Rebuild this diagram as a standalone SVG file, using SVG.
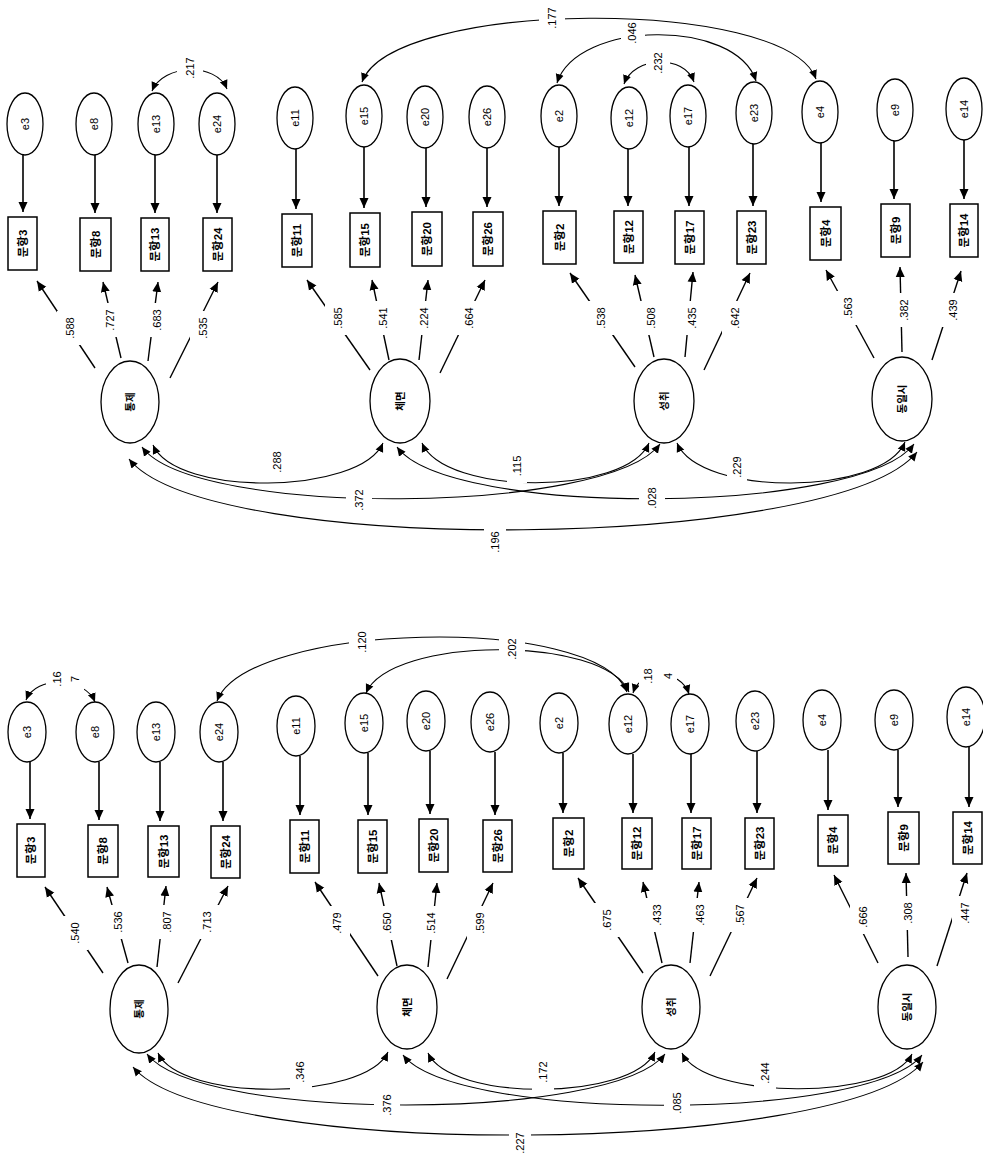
<svg xmlns="http://www.w3.org/2000/svg" width="983" height="1157" viewBox="0 0 983 1157">
<style>
text{font-family:"Liberation Sans","Noto Sans CJK KR",sans-serif;text-anchor:middle;dominant-baseline:central;fill:#000}
.n{font-size:11px}
.e{font-size:11px}
.b{font-size:11.5px;font-weight:bold}
.f{font-size:10.5px;font-weight:bold}
.el{fill:#fff;stroke:#000;stroke-width:1.3}
.bx{fill:#fff;stroke:#000;stroke-width:1.5}
.ea{fill:none;stroke:#000;stroke-width:1.6;marker-end:url(#a)}
.ld{fill:none;stroke:#000;stroke-width:1.4;marker-end:url(#a)}
.cv{fill:none;stroke:#000;stroke-width:1.1;marker-start:url(#s);marker-end:url(#s)}
</style>
<defs>
<marker id="a" viewBox="0 0 10 10" refX="10" refY="5" markerWidth="10" markerHeight="10" markerUnits="userSpaceOnUse" orient="auto"><path d="M0,0.5 L10,5 L0,9.5 z" fill="#000"/></marker>
<marker id="s" viewBox="0 0 10 10" refX="10" refY="5" markerWidth="9" markerHeight="9" markerUnits="userSpaceOnUse" orient="auto-start-reverse"><path d="M0,0.5 L10,5 L0,9.5 z" fill="#000"/></marker>
<mask id="gap" maskUnits="userSpaceOnUse" x="0" y="0" width="983" height="1157">
<rect width="983" height="1157" fill="#fff"/>
<g fill="#000">
<rect x="57" y="311" width="26" height="34"/><rect x="97" y="303" width="26" height="34"/><rect x="144" y="303" width="26" height="34"/><rect x="190" y="311" width="26" height="34"/>
<rect x="325" y="301" width="26" height="34"/><rect x="370" y="301" width="26" height="34"/><rect x="411" y="301" width="26" height="34"/><rect x="456" y="301" width="26" height="34"/>
<rect x="588" y="301" width="26" height="34"/><rect x="638" y="301" width="26" height="34"/><rect x="679" y="301" width="26" height="34"/><rect x="722" y="301" width="26" height="34"/>
<rect x="835" y="291" width="26" height="34"/><rect x="891" y="293" width="26" height="34"/><rect x="940" y="293" width="26" height="34"/>
<rect x="62" y="916" width="26" height="34"/><rect x="105" y="905" width="26" height="34"/><rect x="154" y="905" width="26" height="34"/><rect x="194" y="905" width="26" height="34"/>
<rect x="324" y="906" width="26" height="34"/><rect x="374" y="906" width="26" height="34"/><rect x="418" y="906" width="26" height="34"/><rect x="467" y="906" width="26" height="34"/>
<rect x="594" y="903" width="26" height="34"/><rect x="644" y="898" width="26" height="34"/><rect x="687" y="898" width="26" height="34"/><rect x="727" y="898" width="26" height="34"/>
<rect x="850" y="900" width="26" height="34"/><rect x="895" y="896" width="26" height="34"/><rect x="952" y="896" width="26" height="34"/>
<rect x="346" y="483" width="26" height="34"/><rect x="484" y="526" width="22" height="34"/><rect x="507" y="452" width="20" height="31"/><rect x="639" y="481" width="26" height="34"/><rect x="727" y="452" width="20" height="36"/>
<rect x="177" y="51" width="26" height="34"/><rect x="539" y="1" width="26" height="34"/><rect x="621" y="22" width="24" height="26"/><rect x="646" y="48" width="24" height="30"/>
<rect x="46" y="665" width="38" height="28"/><rect x="349" y="625" width="26" height="34"/><rect x="499" y="632" width="26" height="34"/><rect x="639" y="665" width="38" height="22"/>
<rect x="290" y="1056" width="22" height="36"/><rect x="374" y="1088" width="26" height="34"/><rect x="509" y="1126" width="22" height="34"/><rect x="532" y="1056" width="22" height="36"/><rect x="664" y="1086" width="26" height="34"/><rect x="754" y="1056" width="22" height="36"/>
</g>
</mask>
</defs>
<rect width="983" height="1157" fill="#fff"/>

<g id="connectors" mask="url(#gap)">
<!-- top: error to item -->
<path class="ea" d="M23,155 L23,212"/><path class="ea" d="M95,155 L95,213"/><path class="ea" d="M155,155 L155,213"/><path class="ea" d="M217,155 L217,213"/>
<path class="ea" d="M296,149 L296,209"/><path class="ea" d="M364,147 L364,208"/><path class="ea" d="M426,148 L426,207"/><path class="ea" d="M487,148 L487,207"/>
<path class="ea" d="M559,147 L559,206"/><path class="ea" d="M628,149 L628,206"/><path class="ea" d="M689,147 L689,206"/><path class="ea" d="M753,144 L753,206"/>
<path class="ea" d="M821,143 L821,202"/><path class="ea" d="M894,141 L894,199"/><path class="ea" d="M964,140 L964,199"/>
<!-- top: loadings -->
<path class="ld" d="M95,368 L37,281"/><path class="ld" d="M121,358 L103,282"/><path class="ld" d="M148,361 L158,282"/><path class="ld" d="M170,378 L218,282"/>
<path class="ld" d="M370,370 L307,280"/><path class="ld" d="M389,360 L372,280"/><path class="ld" d="M419,360 L428,280"/><path class="ld" d="M440,373 L485,280"/>
<path class="ld" d="M635,367 L570,273"/><path class="ld" d="M654,357 L635,275"/><path class="ld" d="M685,357 L693,272"/><path class="ld" d="M704,370 L750,273"/>
<path class="ld" d="M874,358 L826,270"/><path class="ld" d="M902,352 L900,267"/><path class="ld" d="M932,360 L961,271"/>
<!-- top: factor covariances -->
<path class="cv" d="M153,445 C176,497 360,495 383,443"/>
<path class="cv" d="M142,447 C194,518 608,515 660,444"/>
<path class="cv" d="M129,459 C208,558 838,551 917,452"/>
<path class="cv" d="M422,443 C445,496 626,496 649,443"/>
<path class="cv" d="M397,447 C449,518 862,515 914,444"/>
<path class="cv" d="M677,443 C700,497 882,496 905,442"/>
<!-- top: error covariances -->
<path class="cv" d="M152,91 C163,64 216,62 227,89"/>
<path class="cv" d="M362,82 C392,-1 786,-4 816,79"/>
<path class="cv" d="M557,83 C577,20 736,18 756,81"/>
<path class="cv" d="M624,84 C634,56 684,54 694,82"/>
<!-- bottom: error to item -->
<path class="ea" d="M30,762 L30,819"/><path class="ea" d="M99,762 L99,820"/><path class="ea" d="M160,762 L160,821"/><path class="ea" d="M223,762 L223,821"/>
<path class="ea" d="M300,756 L300,815"/><path class="ea" d="M368,753 L368,815"/><path class="ea" d="M430,751 L430,814"/><path class="ea" d="M495,752 L495,815"/>
<path class="ea" d="M563,753 L563,813"/><path class="ea" d="M633,754 L633,813"/><path class="ea" d="M691,754 L691,813"/><path class="ea" d="M757,751 L757,813"/>
<path class="ea" d="M828,750 L828,810"/><path class="ea" d="M898,750 L898,807"/><path class="ea" d="M969,747 L969,807"/>
<!-- bottom: loadings -->
<path class="ld" d="M103,973 L45,887"/><path class="ld" d="M128,963 L107,887"/><path class="ld" d="M157,967 L166,886"/><path class="ld" d="M178,983 L228,886"/>
<path class="ld" d="M378,976 L315,882"/><path class="ld" d="M397,966 L379,883"/><path class="ld" d="M428,967 L437,883"/><path class="ld" d="M447,979 L493,883"/>
<path class="ld" d="M643,973 L578,878"/><path class="ld" d="M662,963 L643,882"/><path class="ld" d="M690,963 L699,882"/><path class="ld" d="M710,976 L757,878"/>
<path class="ld" d="M878,963 L834,875"/><path class="ld" d="M908,957 L906,873"/><path class="ld" d="M937,966 L967,873"/>
<!-- bottom: factor covariances -->
<path class="cv" d="M158,1053 C181,1102 365,1101 388,1052"/>
<path class="cv" d="M147,1054 C199,1122 613,1122 665,1054"/>
<path class="cv" d="M133,1067 C212,1161 844,1156 923,1062"/>
<path class="cv" d="M428,1053 C451,1102 632,1101 655,1052"/>
<path class="cv" d="M403,1055 C455,1122 870,1122 922,1055"/>
<path class="cv" d="M682,1053 C705,1100 889,1101 912,1054"/>
<!-- bottom: error covariances -->
<path class="cv" d="M26,700 C36,675 85,677 95,702"/>
<path class="cv" d="M217,701 C247,622 597,613 627,692"/>
<path class="cv" d="M366,693 C391,636 604,635 629,692"/>
<path class="cv" d="M633,693 C641,668 681,669 689,694"/>
</g>

<g id="connector-labels" class="n">
<text class="n" transform="translate(70 328) rotate(-90)">.588</text>
<text class="n" transform="translate(110 320) rotate(-90)">.727</text>
<text class="n" transform="translate(157 320) rotate(-90)">.683</text>
<text class="n" transform="translate(203 328) rotate(-90)">.535</text>
<text class="n" transform="translate(338 318) rotate(-90)">.585</text>
<text class="n" transform="translate(383 318) rotate(-90)">.541</text>
<text class="n" transform="translate(424 318) rotate(-90)">.224</text>
<text class="n" transform="translate(469 318) rotate(-90)">.664</text>
<text class="n" transform="translate(601 318) rotate(-90)">.538</text>
<text class="n" transform="translate(651 318) rotate(-90)">.508</text>
<text class="n" transform="translate(692 318) rotate(-90)">.435</text>
<text class="n" transform="translate(735 318) rotate(-90)">.642</text>
<text class="n" transform="translate(848 308) rotate(-90)">.563</text>
<text class="n" transform="translate(904 310) rotate(-90)">.382</text>
<text class="n" transform="translate(953 310) rotate(-90)">.439</text>
<text class="n" transform="translate(277 462) rotate(-90)">.288</text>
<text class="n" transform="translate(359 500) rotate(-90)">.372</text>
<text class="n" transform="translate(495 542) rotate(-90)">.196</text>
<text class="n" transform="translate(517 466) rotate(-90)">.115</text>
<text class="n" transform="translate(652 498) rotate(-90)">.028</text>
<text class="n" transform="translate(737 467) rotate(-90)">.229</text>
<text class="n" transform="translate(190 68) rotate(-90)">.217</text>
<text class="n" transform="translate(552 18) rotate(-90)">.177</text>
<text class="n" transform="translate(632 33) rotate(-90)">.046</text>
<text class="n" transform="translate(658 63) rotate(-90)">.232</text>
<text class="n" transform="translate(75 933) rotate(-90)">.540</text>
<text class="n" transform="translate(118 922) rotate(-90)">.536</text>
<text class="n" transform="translate(167 922) rotate(-90)">.807</text>
<text class="n" transform="translate(207 922) rotate(-90)">.713</text>
<text class="n" transform="translate(337 923) rotate(-90)">.479</text>
<text class="n" transform="translate(387 923) rotate(-90)">.650</text>
<text class="n" transform="translate(431 923) rotate(-90)">.514</text>
<text class="n" transform="translate(480 923) rotate(-90)">.599</text>
<text class="n" transform="translate(607 920) rotate(-90)">.675</text>
<text class="n" transform="translate(657 915) rotate(-90)">.433</text>
<text class="n" transform="translate(700 915) rotate(-90)">.463</text>
<text class="n" transform="translate(740 915) rotate(-90)">.567</text>
<text class="n" transform="translate(863 917) rotate(-90)">.666</text>
<text class="n" transform="translate(908 913) rotate(-90)">.308</text>
<text class="n" transform="translate(965 913) rotate(-90)">.447</text>
<text class="n" transform="translate(300 1072) rotate(-90)">.346</text>
<text class="n" transform="translate(387 1105) rotate(-90)">.376</text>
<text class="n" transform="translate(520 1143) rotate(-90)">.227</text>
<text class="n" transform="translate(543 1072) rotate(-90)">.172</text>
<text class="n" transform="translate(677 1103) rotate(-90)">.085</text>
<text class="n" transform="translate(765 1073) rotate(-90)">.244</text>
<text class="n" transform="translate(57 679) rotate(-90)">.16</text>
<text class="n" transform="translate(75 679) rotate(-90)">7</text>
<text class="n" transform="translate(362 642) rotate(-90)">.120</text>
<text class="n" transform="translate(512 649) rotate(-90)">.202</text>
<text class="n" transform="translate(648 676) rotate(-90)">.18</text>
<text class="n" transform="translate(668 676) rotate(-90)">4</text>
</g>

<!-- TOP MODEL: errors -->
<g id="t_e3"><ellipse class="el" cx="25" cy="124" rx="18" ry="31"/><text class="e" transform="translate(25 124) rotate(-90)">e3</text></g>
<g id="t_e8"><ellipse class="el" cx="94" cy="124" rx="18" ry="31"/><text class="e" transform="translate(94 124) rotate(-90)">e8</text></g>
<g id="t_e13"><ellipse class="el" cx="156" cy="124" rx="18" ry="31"/><text class="e" transform="translate(156 124) rotate(-90)">e13</text></g>
<g id="t_e24"><ellipse class="el" cx="217" cy="124" rx="18" ry="31"/><text class="e" transform="translate(217 124) rotate(-90)">e24</text></g>
<g id="t_e11"><ellipse class="el" cx="295" cy="118" rx="18" ry="31"/><text class="e" transform="translate(295 118) rotate(-90)">e11</text></g>
<g id="t_e15"><ellipse class="el" cx="364" cy="116" rx="18" ry="31"/><text class="e" transform="translate(364 116) rotate(-90)">e15</text></g>
<g id="t_e20"><ellipse class="el" cx="425" cy="117" rx="18" ry="31"/><text class="e" transform="translate(425 117) rotate(-90)">e20</text></g>
<g id="t_e26"><ellipse class="el" cx="487" cy="117" rx="18" ry="31"/><text class="e" transform="translate(487 117) rotate(-90)">e26</text></g>
<g id="t_e2"><ellipse class="el" cx="559" cy="116" rx="18" ry="31"/><text class="e" transform="translate(559 116) rotate(-90)">e2</text></g>
<g id="t_e12"><ellipse class="el" cx="629" cy="118" rx="18" ry="31"/><text class="e" transform="translate(629 118) rotate(-90)">e12</text></g>
<g id="t_e17"><ellipse class="el" cx="688" cy="116" rx="18" ry="31"/><text class="e" transform="translate(688 116) rotate(-90)">e17</text></g>
<g id="t_e23"><ellipse class="el" cx="754" cy="113" rx="18" ry="31"/><text class="e" transform="translate(754 113) rotate(-90)">e23</text></g>
<g id="t_e4"><ellipse class="el" cx="820" cy="112" rx="18" ry="31"/><text class="e" transform="translate(820 112) rotate(-90)">e4</text></g>
<g id="t_e9"><ellipse class="el" cx="895" cy="110" rx="18" ry="31"/><text class="e" transform="translate(895 110) rotate(-90)">e9</text></g>
<g id="t_e14"><ellipse class="el" cx="964" cy="109" rx="18" ry="31"/><text class="e" transform="translate(964 109) rotate(-90)">e14</text></g>
<!-- TOP MODEL: items -->
<g id="t_q3"><rect class="bx" x="8" y="217" width="29" height="53"/><text class="b" transform="translate(22.5 243.5) rotate(-90)">문항3</text></g>
<g id="t_q8"><rect class="bx" x="80" y="218" width="31" height="53"/><text class="b" transform="translate(95.5 244.5) rotate(-90)">문항8</text></g>
<g id="t_q13"><rect class="bx" x="141" y="218" width="28" height="53"/><text class="b" transform="translate(155 244.5) rotate(-90)">문항13</text></g>
<g id="t_q24"><rect class="bx" x="203" y="218" width="29" height="53"/><text class="b" transform="translate(217.5 244.5) rotate(-90)">문항24</text></g>
<g id="t_q11"><rect class="bx" x="282" y="214" width="30" height="53"/><text class="b" transform="translate(297 240.5) rotate(-90)">문항11</text></g>
<g id="t_q15"><rect class="bx" x="350" y="213" width="30" height="54"/><text class="b" transform="translate(365 240) rotate(-90)">문항15</text></g>
<g id="t_q20"><rect class="bx" x="412" y="212" width="30" height="54"/><text class="b" transform="translate(427 239) rotate(-90)">문항20</text></g>
<g id="t_q26"><rect class="bx" x="473" y="212" width="30" height="54"/><text class="b" transform="translate(488 239) rotate(-90)">문항26</text></g>
<g id="t_q2"><rect class="bx" x="543" y="211" width="33" height="53"/><text class="b" transform="translate(559.5 237.5) rotate(-90)">문항2</text></g>
<g id="t_q12"><rect class="bx" x="614" y="211" width="29" height="52"/><text class="b" transform="translate(628.5 237) rotate(-90)">문항12</text></g>
<g id="t_q17"><rect class="bx" x="675" y="211" width="29" height="53"/><text class="b" transform="translate(689.5 237.5) rotate(-90)">문항17</text></g>
<g id="t_q23"><rect class="bx" x="737" y="211" width="29" height="53"/><text class="b" transform="translate(751.5 237.5) rotate(-90)">문항23</text></g>
<g id="t_q4"><rect class="bx" x="810" y="207" width="31" height="53"/><text class="b" transform="translate(825.5 233.5) rotate(-90)">문항4</text></g>
<g id="t_q9"><rect class="bx" x="881" y="204" width="29" height="53"/><text class="b" transform="translate(895.5 230.5) rotate(-90)">문항9</text></g>
<g id="t_q14"><rect class="bx" x="950" y="204" width="28" height="53"/><text class="b" transform="translate(964 230.5) rotate(-90)">문항14</text></g>
<!-- TOP MODEL: factors -->
<g id="t_f1"><ellipse class="el" cx="130" cy="402" rx="29" ry="41"/><text class="f" transform="translate(130 402) rotate(-90)">통제</text></g>
<g id="t_f2"><ellipse class="el" cx="400" cy="401" rx="30" ry="42"/><text class="f" transform="translate(400 401) rotate(-90)">체면</text></g>
<g id="t_f3"><ellipse class="el" cx="664" cy="401" rx="30" ry="42"/><text class="f" transform="translate(664 401) rotate(-90)">성취</text></g>
<g id="t_f4"><ellipse class="el" cx="902" cy="399" rx="30" ry="42"/><text class="f" transform="translate(902 399) rotate(-90)">동일시</text></g>

<!-- BOTTOM MODEL: errors -->
<g id="b_e3"><ellipse class="el" cx="27" cy="732" rx="19" ry="30"/><text class="e" transform="translate(27 732) rotate(-90)">e3</text></g>
<g id="b_e8"><ellipse class="el" cx="95" cy="732" rx="19" ry="30"/><text class="e" transform="translate(95 732) rotate(-90)">e8</text></g>
<g id="b_e13"><ellipse class="el" cx="156" cy="732" rx="19" ry="30"/><text class="e" transform="translate(156 732) rotate(-90)">e13</text></g>
<g id="b_e24"><ellipse class="el" cx="219" cy="732" rx="19" ry="30"/><text class="e" transform="translate(219 732) rotate(-90)">e24</text></g>
<g id="b_e11"><ellipse class="el" cx="296" cy="726" rx="19" ry="30"/><text class="e" transform="translate(296 726) rotate(-90)">e11</text></g>
<g id="b_e15"><ellipse class="el" cx="364" cy="723" rx="19" ry="30"/><text class="e" transform="translate(364 723) rotate(-90)">e15</text></g>
<g id="b_e20"><ellipse class="el" cx="426" cy="721" rx="19" ry="30"/><text class="e" transform="translate(426 721) rotate(-90)">e20</text></g>
<g id="b_e26"><ellipse class="el" cx="490" cy="722" rx="19" ry="30"/><text class="e" transform="translate(490 722) rotate(-90)">e26</text></g>
<g id="b_e2"><ellipse class="el" cx="559" cy="723" rx="19" ry="30"/><text class="e" transform="translate(559 723) rotate(-90)">e2</text></g>
<g id="b_e12"><ellipse class="el" cx="628" cy="724" rx="19" ry="30"/><text class="e" transform="translate(628 724) rotate(-90)">e12</text></g>
<g id="b_e17"><ellipse class="el" cx="690" cy="724" rx="19" ry="30"/><text class="e" transform="translate(690 724) rotate(-90)">e17</text></g>
<g id="b_e23"><ellipse class="el" cx="755" cy="721" rx="19" ry="30"/><text class="e" transform="translate(755 721) rotate(-90)">e23</text></g>
<g id="b_e4"><ellipse class="el" cx="822" cy="720" rx="19" ry="30"/><text class="e" transform="translate(822 720) rotate(-90)">e4</text></g>
<g id="b_e9"><ellipse class="el" cx="894" cy="720" rx="19" ry="30"/><text class="e" transform="translate(894 720) rotate(-90)">e9</text></g>
<g id="b_e14"><ellipse class="el" cx="966" cy="717" rx="19" ry="30"/><text class="e" transform="translate(966 717) rotate(-90)">e14</text></g>
<!-- BOTTOM MODEL: items -->
<g id="b_q3"><rect class="bx" x="17" y="824" width="28" height="53"/><text class="b" transform="translate(31 850.5) rotate(-90)">문항3</text></g>
<g id="b_q8"><rect class="bx" x="88" y="825" width="30" height="52"/><text class="b" transform="translate(103 851) rotate(-90)">문항8</text></g>
<g id="b_q13"><rect class="bx" x="148" y="826" width="31" height="51"/><text class="b" transform="translate(163.5 851.5) rotate(-90)">문항13</text></g>
<g id="b_q24"><rect class="bx" x="211" y="826" width="29" height="52"/><text class="b" transform="translate(225.5 852) rotate(-90)">문항24</text></g>
<g id="b_q11"><rect class="bx" x="290" y="820" width="29" height="53"/><text class="b" transform="translate(304.5 846.5) rotate(-90)">문항11</text></g>
<g id="b_q15"><rect class="bx" x="358" y="820" width="29" height="53"/><text class="b" transform="translate(372.5 846.5) rotate(-90)">문항15</text></g>
<g id="b_q20"><rect class="bx" x="419" y="819" width="29" height="53"/><text class="b" transform="translate(433.5 845.5) rotate(-90)">문항20</text></g>
<g id="b_q26"><rect class="bx" x="483" y="820" width="29" height="52"/><text class="b" transform="translate(497.5 846) rotate(-90)">문항26</text></g>
<g id="b_q2"><rect class="bx" x="553" y="818" width="31" height="51"/><text class="b" transform="translate(568.5 843.5) rotate(-90)">문항2</text></g>
<g id="b_q12"><rect class="bx" x="622" y="818" width="30" height="51"/><text class="b" transform="translate(637 843.5) rotate(-90)">문항12</text></g>
<g id="b_q17"><rect class="bx" x="682" y="818" width="29" height="51"/><text class="b" transform="translate(696.5 843.5) rotate(-90)">문항17</text></g>
<g id="b_q23"><rect class="bx" x="745" y="818" width="29" height="51"/><text class="b" transform="translate(759.5 843.5) rotate(-90)">문항23</text></g>
<g id="b_q4"><rect class="bx" x="818" y="815" width="30" height="51"/><text class="b" transform="translate(833 840.5) rotate(-90)">문항4</text></g>
<g id="b_q9"><rect class="bx" x="888" y="812" width="31" height="52"/><text class="b" transform="translate(903.5 838) rotate(-90)">문항9</text></g>
<g id="b_q14"><rect class="bx" x="953" y="812" width="29" height="52"/><text class="b" transform="translate(967.5 838) rotate(-90)">문항14</text></g>
<!-- BOTTOM MODEL: factors -->
<g id="b_f1"><ellipse class="el" cx="139" cy="1009" rx="29" ry="44"/><text class="f" transform="translate(139 1009) rotate(-90)">통제</text></g>
<g id="b_f2"><ellipse class="el" cx="407" cy="1007" rx="30" ry="42"/><text class="f" transform="translate(407 1007) rotate(-90)">체면</text></g>
<g id="b_f3"><ellipse class="el" cx="671" cy="1007" rx="29" ry="42"/><text class="f" transform="translate(671 1007) rotate(-90)">성취</text></g>
<g id="b_f4"><ellipse class="el" cx="907" cy="1007" rx="29" ry="42"/><text class="f" transform="translate(907 1007) rotate(-90)">동일시</text></g>
</svg>
